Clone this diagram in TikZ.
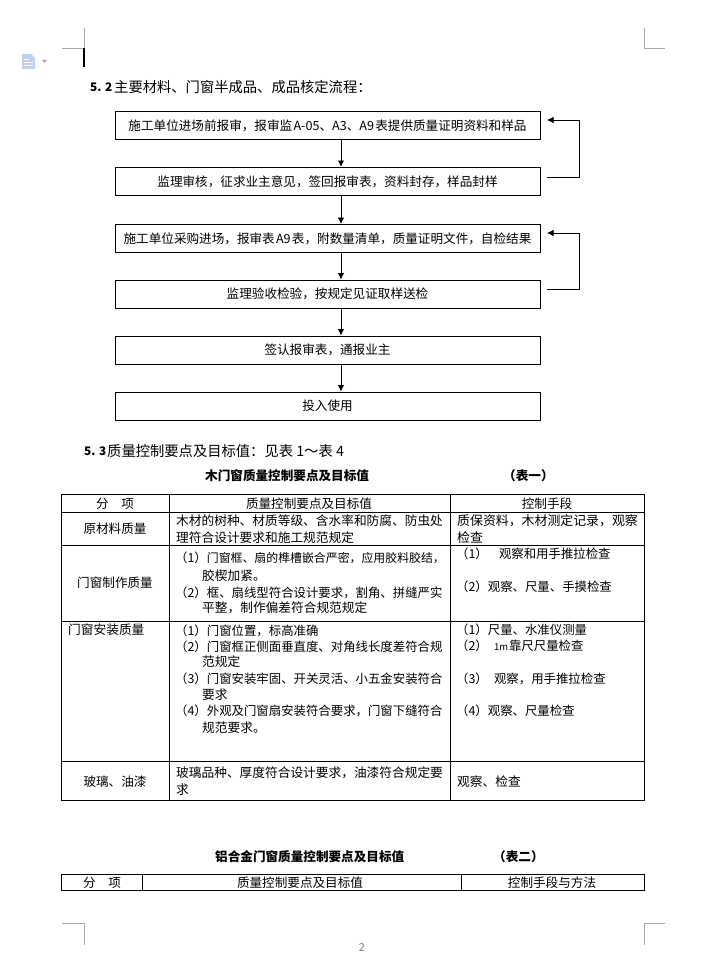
\documentclass[tikz,border=0pt]{standalone}
\usepackage{fontspec}
\setmainfont{Noto Sans CJK SC}
\usetikzlibrary{arrows.meta}
\definecolor{crop}{RGB}{170,170,170}
\definecolor{iconblue}{RGB}{190,210,240}
\definecolor{pagenum}{RGB}{120,120,150}
\tikzset{
  flowbox/.style={draw=black,line width=1pt,minimum width=425pt,minimum height=28pt,inner sep=0pt,font=\fontsize{12.6}{15}\selectfont},
  flowarrow/.style={draw=black,line width=0.9pt,-{Latex[length=6.5pt,width=6.5pt]}},
  gridline/.style={draw=black,line width=1pt},
  cropmark/.style={draw=crop,line width=0.8pt},
  celltext/.style={anchor=west,inner sep=0pt,yshift=-0.6pt,font=\fontsize{12.7}{15}\selectfont},
  wide/.style={font=\fontsize{12.9}{15}\selectfont},
  parenline/.style={celltext,font=\fontsize{12.4}{15}\selectfont},
  midtext/.style={anchor=center,inner sep=0pt,yshift=-0.6pt,font=\fontsize{12.6}{15}\selectfont},
  headtext/.style={anchor=west,inner sep=0pt,font=\fontsize{14.3}{17}\selectfont},
  headnum/.style={anchor=west,inner sep=0pt,font=\fontsize{11.8}{15}\selectfont\bfseries},
  titletext/.style={anchor=west,inner sep=0pt,font=\fontsize{12.6}{15}\selectfont\bfseries},
}
\begin{document}
\begin{tikzpicture}[x=1pt,y=-1pt]
\useasboundingbox (0,0) rectangle (710,955);
% crop marks
\draw[cropmark] (62,48) -- (84,48) -- (84,28);
\draw[cropmark] (644,28) -- (644,48) -- (665,48);
\draw[cropmark] (62,923) -- (84,923) -- (84,945);
\draw[cropmark] (665,923) -- (644,923) -- (644,945);
\draw[black,line width=2pt] (84,48) -- (84,67);
% document icon
\fill[iconblue] (22,54) -- (31,54) -- (35,58) -- (35,69) -- (22,69) -- cycle;
\draw[white,line width=0.8pt] (24,59) -- (29,59) (24,62) -- (33,62) (24,65) -- (33,65);
\fill[crop] (42,60) -- (47,60) -- (44.5,63) -- cycle;
% headings
\node[headnum] (h52a) at (90,87) {5. 2};
\node[headtext] (h52b) at (114,87) {主要材料、门窗半成品、成品核定流程：};
\node[headnum] (h53a) at (84,451) {5. 3};
\node[headtext] (h53b) at (107,451) {质量控制要点及目标值：见表 1～表 4};
% flow boxes
\node[flowbox] (b1) at (327.5,125.5) {施工单位进场前报审，报审监\hspace{0.1em}A-05、A3、A9\hspace{0.1em}表提供质量证明资料和样品};
\node[flowbox] (b2) at (327.5,181.5) {监理审核，征求业主意见，签回报审表，资料封存，样品封样};
\node[flowbox] (b3) at (327.5,238.5) {施工单位采购进场，报审表\hspace{0.1em}A9\hspace{0.1em}表，附数量清单，质量证明文件，自检结果};
\node[flowbox] (b4) at (327.5,294) {监理验收检验，按规定见证取样送检};
\node[flowbox] (b5) at (327.5,350) {签认报审表，通报业主};
\node[flowbox] (b6) at (327.5,406) {投入使用};
\foreach \a/\b in {b1/b2,b2/b3,b3/b4,b4/b5,b5/b6}
  \draw[flowarrow] ([xshift=13.5pt]\a.south) -- ([xshift=13.5pt]\b.north);
% feedback loops
\coordinate (fb1a) at (547,177);
\coordinate (fb1b) at (579,177);
\coordinate (fb1c) at (579,120);
\coordinate (fb1d) at (547,120);
\draw[flowarrow] (fb1a) -- (fb1b) -- (fb1c) -- (fb1d);
\coordinate (fb2a) at (547,289);
\coordinate (fb2b) at (579,289);
\coordinate (fb2c) at (579,233);
\coordinate (fb2d) at (547,233);
\draw[flowarrow] (fb2a) -- (fb2b) -- (fb2c) -- (fb2d);
% table 1
\node[titletext] (t1) at (205,476) {木门窗质量控制要点及目标值};
\node[titletext] (t1n) at (503,476) {（表一）};
\draw[gridline] (61.5,494) rectangle (644,800);
\draw[gridline] (169,494) -- (169,800) (450,494) -- (450,800);
\draw[gridline] (61.5,512) -- (644,512) (61.5,545) -- (644,545) (61.5,621) -- (644,621) (61.5,761) -- (644,761);
\node[midtext] (c11) at (115,503) {分\hspace{1em}项};
\node[midtext] (c12) at (309,503) {质量控制要点及目标值};
\node[midtext] (c13) at (547,503) {控制手段};
\node[midtext] (c21) at (115,528) {原材料质量};
\node[celltext] (c22a) at (176,520) {木材的树种、材质等级、含水率和防腐、防虫处};
\node[celltext] (c22b) at (176,537) {理符合设计要求和施工规范规定};
\node[celltext,wide] (c23a) at (457,520) {质保资料，木材测定记录，观察};
\node[celltext,wide] (c23b) at (457,537) {检查};
\node[midtext] (c31) at (115,582) {门窗制作质量};
\node[parenline,font=\fontsize{11.9}{15}\selectfont] (c32a) at (175,557) {{\fontsize{12.4}{15}\selectfont（1）}门窗框、扇的榫槽嵌合严密，应用胶料胶结，};
\node[celltext] (c32b) at (202,575) {胶楔加紧。};
\node[parenline] (c32c) at (175,592) {（2）框、扇线型符合设计要求，割角、拼缝严实};
\node[celltext] (c32d) at (202,607) {平整，制作偏差符合规范规定};
\node[parenline] (c33a) at (456,553) {（1）\hspace{0.9em}观察和用手推拉检查};
\node[parenline] (c33b) at (456,586) {（2）观察、尺量、手摸检查};
\node[celltext] (c41) at (68,629) {门窗安装质量};
\node[parenline] (c42a) at (175,630) {（1）门窗位置，标高准确};
\node[parenline] (c42b) at (175,646) {（2）门窗框正侧面垂直度、对角线长度差符合规};
\node[celltext] (c42c) at (202,661) {范规定};
\node[parenline] (c42d) at (175,678) {（3）门窗安装牢固、开关灵活、小五金安装符合};
\node[celltext] (c42e) at (202,694) {要求};
\node[parenline] (c42f) at (175,710) {（4）外观及门窗扇安装符合要求，门窗下缝符合};
\node[celltext] (c42g) at (202,727) {规范要求。};
\node[parenline] (c43a) at (456,629) {（1）尺量、水准仪测量};
\node[parenline] (c43b) at (456,645) {（2）\hspace{0.5em}\makebox[15pt][l]{\fontsize{9.5}{12}\selectfont 1m}靠尺尺量检查};
\node[parenline] (c43c) at (456,678) {（3）\hspace{0.5em}观察，用手推拉检查};
\node[parenline] (c43d) at (456,710) {（4）观察、尺量检查};
\node[midtext] (c51) at (115,781) {玻璃、油漆};
\node[celltext] (c52a) at (176,772) {玻璃品种、厚度符合设计要求，油漆符合规定要};
\node[celltext] (c52b) at (176,789) {求};
\node[celltext] (c53) at (457,781) {观察、检查};
% table 2
\node[titletext] (t2) at (215,857) {铝合金门窗质量控制要点及目标值};
\node[titletext] (t2n) at (493,857) {（表二）};
\draw[gridline] (61.5,874) rectangle (644,890);
\draw[gridline] (142,874) -- (142,890) (461,874) -- (461,890);
\node[midtext] (d1) at (102,882) {分\hspace{1em}项};
\node[midtext] (d2) at (300,882) {质量控制要点及目标值};
\node[midtext] (d3) at (552,882) {控制手段与方法};
% page number
\node[inner sep=0pt,text=pagenum,font=\fontsize{11}{12}\selectfont] (pg) at (362,947) {2};
\end{tikzpicture}
\end{document}
